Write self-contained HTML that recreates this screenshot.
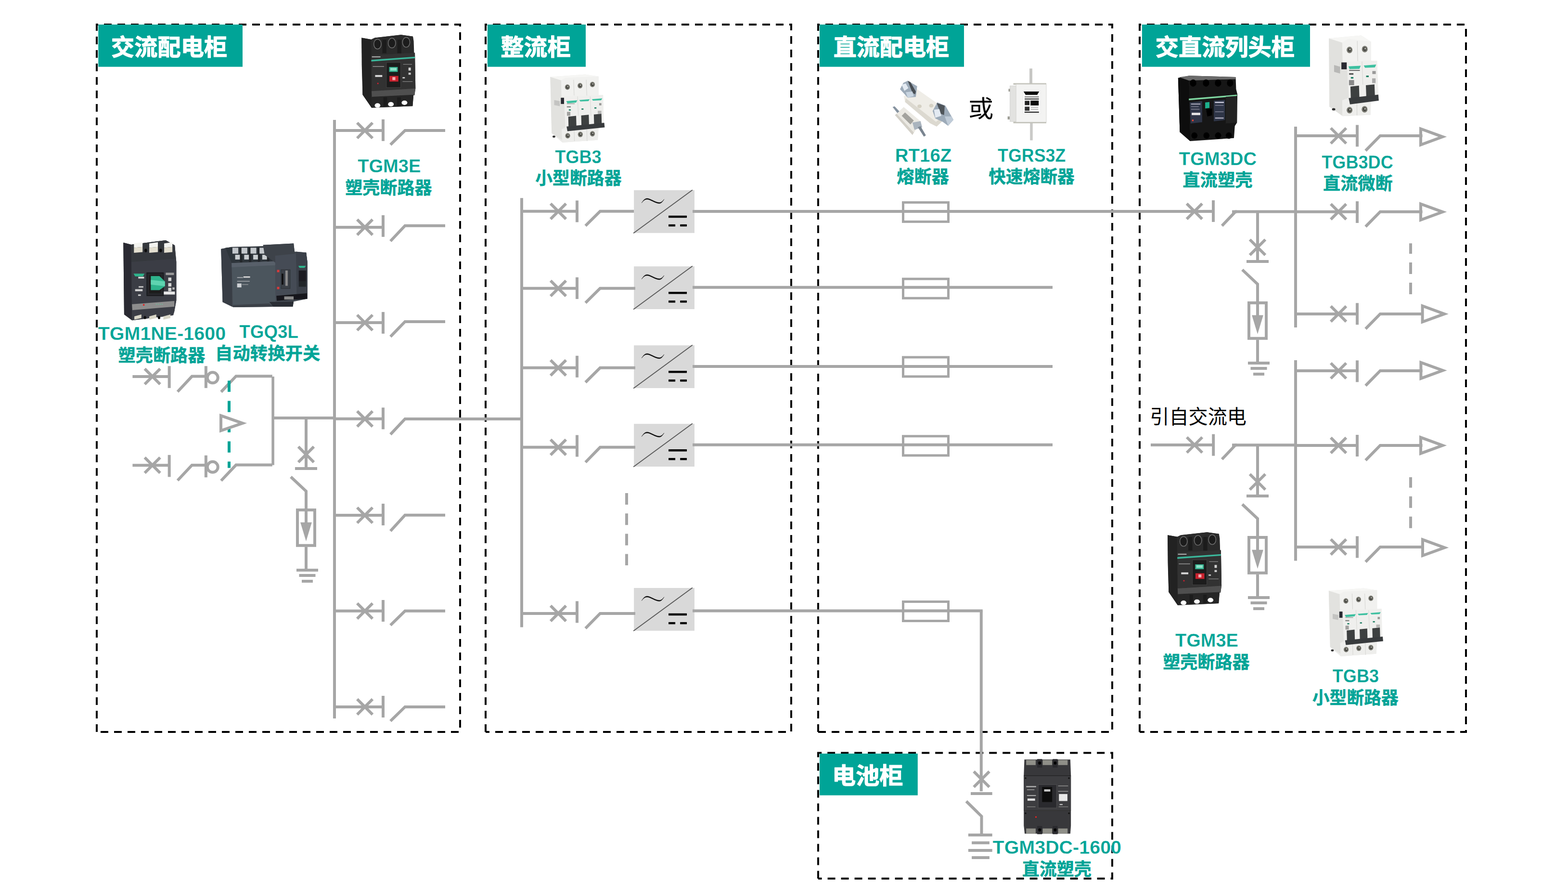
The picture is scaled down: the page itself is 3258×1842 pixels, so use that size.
<!DOCTYPE html>
<html lang="zh-CN">
<head>
<meta charset="utf-8">
<title>通信电源系统配电方案</title>
<style>
html,body{margin:0;padding:0;background:#fff;}
body{width:3258px;height:1842px;overflow:hidden;font-family:"Liberation Sans","Noto Sans CJK SC",sans-serif;}
svg{display:block;}
svg text{font-family:"Liberation Sans","Noto Sans CJK SC",sans-serif;}
.t{font-weight:bold;fill:#00a497;}
.w{font-weight:bold;fill:#fff;}
.k{fill:#000;}
</style>
</head>
<body>
<svg width="3258" height="1842" viewBox="0 0 3258 1842">
<rect x="0" y="0" width="3258" height="1842" fill="#fff"/>
<path d="M201 1520.1V51.1H956V1520.1H201" fill="none" stroke="#000" stroke-width="4" stroke-dasharray="16 12" stroke-linejoin="miter"/>
<path d="M1009 1520.1V51.1H1644V1520.1H1009" fill="none" stroke="#000" stroke-width="4" stroke-dasharray="16 12" stroke-linejoin="miter"/>
<path d="M1700 1520.1V51.1H2311V1520.1H1700" fill="none" stroke="#000" stroke-width="4" stroke-dasharray="16 12" stroke-linejoin="miter"/>
<path d="M2368 1520.1V51.1H3046V1520.1H2368" fill="none" stroke="#000" stroke-width="4" stroke-dasharray="16 12" stroke-linejoin="miter"/>
<path d="M1700 1824.4V1563.6H2311V1824.4H1700" fill="none" stroke="#000" stroke-width="4" stroke-dasharray="16 12" stroke-linejoin="miter"/>
<rect x="204.3" y="51" width="299.7" height="87.7" fill="#00a497"/>
<rect x="1012.9" y="51" width="204.1" height="87.7" fill="#00a497"/>
<rect x="1703" y="51" width="300" height="87.7" fill="#00a497"/>
<rect x="2372.9" y="51" width="349.1" height="87.7" fill="#00a497"/>
<rect x="1703" y="1565" width="203.8" height="86.6" fill="#00a497"/>
<line x1="695" y1="249" x2="695" y2="1491.9" stroke="#a6a6a6" stroke-width="6"/>
<line x1="695" y1="271" x2="796" y2="271" stroke="#a6a6a6" stroke-width="6"/>
<line x1="742.1" y1="255" x2="774.1" y2="287" stroke="#a6a6a6" stroke-width="6"/>
<line x1="742.1" y1="287" x2="774.1" y2="255" stroke="#a6a6a6" stroke-width="6"/>
<line x1="796" y1="247.9" x2="796" y2="292.9" stroke="#a6a6a6" stroke-width="6"/>
<polyline points="811.3,300.5 841.5,271 925,271" fill="none" stroke="#a6a6a6" stroke-width="6" stroke-linejoin="miter"/>
<line x1="695" y1="471.9" x2="796" y2="471.9" stroke="#a6a6a6" stroke-width="6"/>
<line x1="742.1" y1="455.9" x2="774.1" y2="487.9" stroke="#a6a6a6" stroke-width="6"/>
<line x1="742.1" y1="487.9" x2="774.1" y2="455.9" stroke="#a6a6a6" stroke-width="6"/>
<line x1="796" y1="446.9" x2="796" y2="491.9" stroke="#a6a6a6" stroke-width="6"/>
<polyline points="811.3,500.8 841.5,468.8 925,468.8" fill="none" stroke="#a6a6a6" stroke-width="6" stroke-linejoin="miter"/>
<line x1="695" y1="670" x2="796" y2="670" stroke="#a6a6a6" stroke-width="6"/>
<line x1="742.1" y1="654" x2="774.1" y2="686" stroke="#a6a6a6" stroke-width="6"/>
<line x1="742.1" y1="686" x2="774.1" y2="654" stroke="#a6a6a6" stroke-width="6"/>
<line x1="796" y1="647.9" x2="796" y2="692.9" stroke="#a6a6a6" stroke-width="6"/>
<polyline points="811.3,699.2 841.5,667.9 925,667.9" fill="none" stroke="#a6a6a6" stroke-width="6" stroke-linejoin="miter"/>
<line x1="695" y1="869.8" x2="796" y2="869.8" stroke="#a6a6a6" stroke-width="6"/>
<line x1="742.1" y1="853.8" x2="774.1" y2="885.8" stroke="#a6a6a6" stroke-width="6"/>
<line x1="742.1" y1="885.8" x2="774.1" y2="853.8" stroke="#a6a6a6" stroke-width="6"/>
<line x1="796" y1="846.4" x2="796" y2="891.4" stroke="#a6a6a6" stroke-width="6"/>
<polyline points="811.3,902.1 841.5,870 1084,870" fill="none" stroke="#a6a6a6" stroke-width="6" stroke-linejoin="miter"/>
<line x1="695" y1="1070" x2="796" y2="1070" stroke="#a6a6a6" stroke-width="6"/>
<line x1="742.1" y1="1054" x2="774.1" y2="1086" stroke="#a6a6a6" stroke-width="6"/>
<line x1="742.1" y1="1086" x2="774.1" y2="1054" stroke="#a6a6a6" stroke-width="6"/>
<line x1="796" y1="1046" x2="796" y2="1091" stroke="#a6a6a6" stroke-width="6"/>
<polyline points="811.3,1102.7 841.5,1069.8 925,1069.8" fill="none" stroke="#a6a6a6" stroke-width="6" stroke-linejoin="miter"/>
<line x1="695" y1="1268.8" x2="796" y2="1268.8" stroke="#a6a6a6" stroke-width="6"/>
<line x1="742.1" y1="1252.8" x2="774.1" y2="1284.8" stroke="#a6a6a6" stroke-width="6"/>
<line x1="742.1" y1="1284.8" x2="774.1" y2="1252.8" stroke="#a6a6a6" stroke-width="6"/>
<line x1="796" y1="1246" x2="796" y2="1291" stroke="#a6a6a6" stroke-width="6"/>
<polyline points="811.3,1298.3 841.5,1268.8 925,1268.8" fill="none" stroke="#a6a6a6" stroke-width="6" stroke-linejoin="miter"/>
<line x1="695" y1="1467.9" x2="796" y2="1467.9" stroke="#a6a6a6" stroke-width="6"/>
<line x1="742.1" y1="1451.9" x2="774.1" y2="1483.9" stroke="#a6a6a6" stroke-width="6"/>
<line x1="742.1" y1="1483.9" x2="774.1" y2="1451.9" stroke="#a6a6a6" stroke-width="6"/>
<line x1="796" y1="1445" x2="796" y2="1490" stroke="#a6a6a6" stroke-width="6"/>
<polyline points="811.3,1497.3 841.5,1467.9 925,1467.9" fill="none" stroke="#a6a6a6" stroke-width="6" stroke-linejoin="miter"/>
<line x1="567" y1="867.9" x2="695" y2="867.9" stroke="#a6a6a6" stroke-width="6"/>
<line x1="636" y1="867.9" x2="636" y2="973" stroke="#a6a6a6" stroke-width="6"/>
<line x1="619.9" y1="927.6" x2="652.1" y2="959.8" stroke="#a6a6a6" stroke-width="6"/>
<line x1="619.9" y1="959.8" x2="652.1" y2="927.6" stroke="#a6a6a6" stroke-width="6"/>
<line x1="613" y1="973" x2="659" y2="973" stroke="#a6a6a6" stroke-width="6"/>
<polyline points="604.2,990.2 636,1020.1 636,1086" fill="none" stroke="#a6a6a6" stroke-width="6" stroke-linejoin="miter"/>
<rect x="618" y="1059" width="36" height="73.8" fill="none" stroke="#a6a6a6" stroke-width="6"/>
<polygon points="624.1,1084.7 647.9,1084.7 636,1123.9" fill="#a6a6a6" stroke="none" stroke-width="0" stroke-linejoin="miter"/>
<line x1="636" y1="1135.7" x2="636" y2="1184" stroke="#a6a6a6" stroke-width="6"/>
<line x1="616" y1="1184" x2="661" y2="1184" stroke="#a6a6a6" stroke-width="6"/>
<line x1="621.5" y1="1195" x2="655.5" y2="1195" stroke="#a6a6a6" stroke-width="6"/>
<line x1="627" y1="1207" x2="650" y2="1207" stroke="#a6a6a6" stroke-width="6"/>
<line x1="275.4" y1="781.9" x2="351.7" y2="781.9" stroke="#a6a6a6" stroke-width="6"/>
<line x1="300.7" y1="765.9" x2="332.7" y2="797.9" stroke="#a6a6a6" stroke-width="6"/>
<line x1="300.7" y1="797.9" x2="332.7" y2="765.9" stroke="#a6a6a6" stroke-width="6"/>
<line x1="351.7" y1="760.2" x2="351.7" y2="805.8" stroke="#a6a6a6" stroke-width="6"/>
<polyline points="369,813.5 398.8,781.6 428,781.6" fill="none" stroke="#a6a6a6" stroke-width="6" stroke-linejoin="miter"/>
<line x1="427.9" y1="760.2" x2="427.9" y2="805.8" stroke="#a6a6a6" stroke-width="6"/>
<circle cx="441.8" cy="784.3" r="11" fill="none" stroke="#a6a6a6" stroke-width="6"/>
<polyline points="459.4,813.9 490.4,781.3 565.8,781.3" fill="none" stroke="#a6a6a6" stroke-width="6" stroke-linejoin="miter"/>
<line x1="275.4" y1="966.2" x2="351.7" y2="966.2" stroke="#a6a6a6" stroke-width="6"/>
<line x1="300.7" y1="950.2" x2="332.7" y2="982.2" stroke="#a6a6a6" stroke-width="6"/>
<line x1="300.7" y1="982.2" x2="332.7" y2="950.2" stroke="#a6a6a6" stroke-width="6"/>
<line x1="351.7" y1="944.8" x2="351.7" y2="990.4" stroke="#a6a6a6" stroke-width="6"/>
<polyline points="369,997.8 398.8,965.9 428,965.9" fill="none" stroke="#a6a6a6" stroke-width="6" stroke-linejoin="miter"/>
<line x1="427.9" y1="945.7" x2="427.9" y2="991.3" stroke="#a6a6a6" stroke-width="6"/>
<circle cx="441.8" cy="969.8" r="11" fill="none" stroke="#a6a6a6" stroke-width="6"/>
<polyline points="459.4,998.2 490.4,965.6 565.8,965.6" fill="none" stroke="#a6a6a6" stroke-width="6" stroke-linejoin="miter"/>
<line x1="567.1" y1="781.9" x2="567.1" y2="965.8" stroke="#a6a6a6" stroke-width="5.6"/>
<line x1="476" y1="790.4" x2="476" y2="971.7" stroke="#00a497" stroke-width="6" stroke-dasharray="23.3 18.7"/>
<polygon points="459,863.2 504,878.8 459,894.4" fill="#fff" stroke="#a6a6a6" stroke-width="6" stroke-linejoin="miter"/>
<line x1="1084" y1="411.2" x2="1084" y2="1302.5" stroke="#a6a6a6" stroke-width="6"/>
<rect x="1317.2" y="395" width="125.8" height="88.8" fill="#d9d9d9"/>
<line x1="1084" y1="438.8" x2="1199" y2="438.8" stroke="#a6a6a6" stroke-width="6"/>
<line x1="1144" y1="422.8" x2="1176" y2="454.8" stroke="#a6a6a6" stroke-width="6"/>
<line x1="1144" y1="454.8" x2="1176" y2="422.8" stroke="#a6a6a6" stroke-width="6"/>
<line x1="1199" y1="416.4" x2="1199" y2="461.4" stroke="#a6a6a6" stroke-width="6"/>
<polyline points="1216.5,468.8 1246.9,438.8 1317.2,438.8" fill="none" stroke="#a6a6a6" stroke-width="6" stroke-linejoin="miter"/>
<line x1="1439.1" y1="438.9" x2="2521" y2="438.9" stroke="#a6a6a6" stroke-width="6"/>
<line x1="1316.2" y1="484.3" x2="1438.8" y2="394.4" stroke="#595959" stroke-width="1.9"/>
<path transform="translate(0,395)" d="M1333.2 26.4C1337 20.5 1340 17 1344.5 17C1351 17 1362 25.6 1370 25.6C1374 25.6 1377 22.5 1379.9 18.8C1377 23.5 1374 27.6 1370 27.6C1362 27.6 1351 19 1344.5 19C1340 19 1337 21.7 1333.2 26.4Z" fill="#000" stroke="#000" stroke-width="0.4"/>
<line x1="1389.1" y1="450" x2="1427.1" y2="450" stroke="#000" stroke-width="4.4"/>
<line x1="1389.1" y1="468.1" x2="1403.1" y2="468.1" stroke="#000" stroke-width="4.4"/>
<line x1="1413.2" y1="468.1" x2="1427.1" y2="468.1" stroke="#000" stroke-width="4.4"/>
<rect x="1876.5" y="420.4" width="94" height="40" fill="none" stroke="#a6a6a6" stroke-width="5"/>
<rect x="1317.2" y="553.2" width="125.8" height="88.8" fill="#d9d9d9"/>
<line x1="1084" y1="598.8" x2="1199" y2="598.8" stroke="#a6a6a6" stroke-width="6"/>
<line x1="1144" y1="582.8" x2="1176" y2="614.8" stroke="#a6a6a6" stroke-width="6"/>
<line x1="1144" y1="614.8" x2="1176" y2="582.8" stroke="#a6a6a6" stroke-width="6"/>
<line x1="1199" y1="575.9" x2="1199" y2="620.9" stroke="#a6a6a6" stroke-width="6"/>
<polyline points="1216.5,628.8 1246.9,598.8 1320,598.8" fill="none" stroke="#a6a6a6" stroke-width="6" stroke-linejoin="miter"/>
<line x1="1439.1" y1="596.8" x2="2187" y2="596.8" stroke="#a6a6a6" stroke-width="6"/>
<line x1="1316.2" y1="642.5" x2="1438.8" y2="552.6" stroke="#595959" stroke-width="1.9"/>
<path transform="translate(0,553.2)" d="M1333.2 26.4C1337 20.5 1340 17 1344.5 17C1351 17 1362 25.6 1370 25.6C1374 25.6 1377 22.5 1379.9 18.8C1377 23.5 1374 27.6 1370 27.6C1362 27.6 1351 19 1344.5 19C1340 19 1337 21.7 1333.2 26.4Z" fill="#000" stroke="#000" stroke-width="0.4"/>
<line x1="1389.1" y1="608.2" x2="1427.1" y2="608.2" stroke="#000" stroke-width="4.4"/>
<line x1="1389.1" y1="626.3" x2="1403.1" y2="626.3" stroke="#000" stroke-width="4.4"/>
<line x1="1413.2" y1="626.3" x2="1427.1" y2="626.3" stroke="#000" stroke-width="4.4"/>
<rect x="1876.5" y="579.2" width="94" height="40" fill="none" stroke="#a6a6a6" stroke-width="5"/>
<rect x="1317.2" y="717.2" width="125.8" height="88.8" fill="#d9d9d9"/>
<line x1="1084" y1="763.8" x2="1199" y2="763.8" stroke="#a6a6a6" stroke-width="6"/>
<line x1="1144" y1="747.8" x2="1176" y2="779.8" stroke="#a6a6a6" stroke-width="6"/>
<line x1="1144" y1="779.8" x2="1176" y2="747.8" stroke="#a6a6a6" stroke-width="6"/>
<line x1="1199" y1="738.8" x2="1199" y2="783.8" stroke="#a6a6a6" stroke-width="6"/>
<polyline points="1216.5,794 1246.9,763.8 1320,763.8" fill="none" stroke="#a6a6a6" stroke-width="6" stroke-linejoin="miter"/>
<line x1="1439.1" y1="761" x2="2187" y2="761" stroke="#a6a6a6" stroke-width="6"/>
<line x1="1316.2" y1="806.5" x2="1438.8" y2="716.6" stroke="#595959" stroke-width="1.9"/>
<path transform="translate(0,717.2)" d="M1333.2 26.4C1337 20.5 1340 17 1344.5 17C1351 17 1362 25.6 1370 25.6C1374 25.6 1377 22.5 1379.9 18.8C1377 23.5 1374 27.6 1370 27.6C1362 27.6 1351 19 1344.5 19C1340 19 1337 21.7 1333.2 26.4Z" fill="#000" stroke="#000" stroke-width="0.4"/>
<line x1="1389.1" y1="772.2" x2="1427.1" y2="772.2" stroke="#000" stroke-width="4.4"/>
<line x1="1389.1" y1="790.3" x2="1403.1" y2="790.3" stroke="#000" stroke-width="4.4"/>
<line x1="1413.2" y1="790.3" x2="1427.1" y2="790.3" stroke="#000" stroke-width="4.4"/>
<rect x="1876.5" y="741.9" width="94" height="40" fill="none" stroke="#a6a6a6" stroke-width="5"/>
<rect x="1317.2" y="880.2" width="125.8" height="88.8" fill="#d9d9d9"/>
<line x1="1084" y1="928.8" x2="1199" y2="928.8" stroke="#a6a6a6" stroke-width="6"/>
<line x1="1144" y1="912.8" x2="1176" y2="944.8" stroke="#a6a6a6" stroke-width="6"/>
<line x1="1144" y1="944.8" x2="1176" y2="912.8" stroke="#a6a6a6" stroke-width="6"/>
<line x1="1199" y1="903.5" x2="1199" y2="948.5" stroke="#a6a6a6" stroke-width="6"/>
<polyline points="1216.5,960 1246.9,928.8 1320,928.8" fill="none" stroke="#a6a6a6" stroke-width="6" stroke-linejoin="miter"/>
<line x1="1439.1" y1="923.8" x2="2187" y2="923.8" stroke="#a6a6a6" stroke-width="6"/>
<line x1="1316.2" y1="969.5" x2="1438.8" y2="879.6" stroke="#595959" stroke-width="1.9"/>
<path transform="translate(0,880.2)" d="M1333.2 26.4C1337 20.5 1340 17 1344.5 17C1351 17 1362 25.6 1370 25.6C1374 25.6 1377 22.5 1379.9 18.8C1377 23.5 1374 27.6 1370 27.6C1362 27.6 1351 19 1344.5 19C1340 19 1337 21.7 1333.2 26.4Z" fill="#000" stroke="#000" stroke-width="0.4"/>
<line x1="1389.1" y1="935.2" x2="1427.1" y2="935.2" stroke="#000" stroke-width="4.4"/>
<line x1="1389.1" y1="953.3" x2="1403.1" y2="953.3" stroke="#000" stroke-width="4.4"/>
<line x1="1413.2" y1="953.3" x2="1427.1" y2="953.3" stroke="#000" stroke-width="4.4"/>
<rect x="1876.5" y="905.8" width="94" height="40" fill="none" stroke="#a6a6a6" stroke-width="5"/>
<rect x="1317.2" y="1221" width="125.8" height="88.8" fill="#d9d9d9"/>
<line x1="1084" y1="1273.9" x2="1199" y2="1273.9" stroke="#a6a6a6" stroke-width="6"/>
<line x1="1144" y1="1257.9" x2="1176" y2="1289.9" stroke="#a6a6a6" stroke-width="6"/>
<line x1="1144" y1="1289.9" x2="1176" y2="1257.9" stroke="#a6a6a6" stroke-width="6"/>
<line x1="1199" y1="1248.4" x2="1199" y2="1293.4" stroke="#a6a6a6" stroke-width="6"/>
<polyline points="1216.5,1304.9 1246.9,1273.9 1320,1273.9" fill="none" stroke="#a6a6a6" stroke-width="6" stroke-linejoin="miter"/>
<line x1="1439.1" y1="1268.6" x2="2041.8" y2="1268.6" stroke="#a6a6a6" stroke-width="6"/>
<line x1="1316.2" y1="1310.3" x2="1438.8" y2="1220.4" stroke="#595959" stroke-width="1.9"/>
<path transform="translate(0,1221)" d="M1333.2 26.4C1337 20.5 1340 17 1344.5 17C1351 17 1362 25.6 1370 25.6C1374 25.6 1377 22.5 1379.9 18.8C1377 23.5 1374 27.6 1370 27.6C1362 27.6 1351 19 1344.5 19C1340 19 1337 21.7 1333.2 26.4Z" fill="#000" stroke="#000" stroke-width="0.4"/>
<line x1="1389.1" y1="1276" x2="1427.1" y2="1276" stroke="#000" stroke-width="4.4"/>
<line x1="1389.1" y1="1294.1" x2="1403.1" y2="1294.1" stroke="#000" stroke-width="4.4"/>
<line x1="1413.2" y1="1294.1" x2="1427.1" y2="1294.1" stroke="#000" stroke-width="4.4"/>
<rect x="1876.5" y="1249.5" width="94" height="40" fill="none" stroke="#a6a6a6" stroke-width="5"/>
<line x1="1302" y1="1024" x2="1302" y2="1174" stroke="#a6a6a6" stroke-width="6" stroke-dasharray="24 18.2"/>
<line x1="2038.8" y1="1268.6" x2="2038.8" y2="1643.3" stroke="#a6a6a6" stroke-width="6"/>
<line x1="2023.4" y1="1602.1" x2="2055.6" y2="1634.3" stroke="#a6a6a6" stroke-width="6"/>
<line x1="2023.4" y1="1634.3" x2="2055.6" y2="1602.1" stroke="#a6a6a6" stroke-width="6"/>
<line x1="2017" y1="1648" x2="2061.7" y2="1648" stroke="#a6a6a6" stroke-width="6"/>
<polyline points="2007.7,1664 2039.5,1695.2 2039.5,1734" fill="none" stroke="#a6a6a6" stroke-width="6" stroke-linejoin="miter"/>
<line x1="2011.9" y1="1734" x2="2061.7" y2="1734" stroke="#a6a6a6" stroke-width="6"/>
<line x1="2019.1" y1="1750.3" x2="2055.9" y2="1750.3" stroke="#a6a6a6" stroke-width="6"/>
<line x1="2011.9" y1="1766" x2="2061.7" y2="1766" stroke="#a6a6a6" stroke-width="6"/>
<line x1="2019.1" y1="1781" x2="2055.9" y2="1781" stroke="#a6a6a6" stroke-width="6"/>
<line x1="2692" y1="263" x2="2692" y2="680" stroke="#a6a6a6" stroke-width="6"/>
<line x1="2692" y1="748" x2="2692" y2="1164.5" stroke="#a6a6a6" stroke-width="6"/>
<polygon points="2952,267.5 2997.5,284.1 2952,300.7" fill="none" stroke="#a6a6a6" stroke-width="6" stroke-linejoin="miter"/>
<line x1="2692" y1="282" x2="2820" y2="282" stroke="#a6a6a6" stroke-width="6"/>
<line x1="2765.1" y1="266" x2="2797.1" y2="298" stroke="#a6a6a6" stroke-width="6"/>
<line x1="2765.1" y1="298" x2="2797.1" y2="266" stroke="#a6a6a6" stroke-width="6"/>
<line x1="2820" y1="259.5" x2="2820" y2="304.5" stroke="#a6a6a6" stroke-width="6"/>
<polyline points="2837.4,312.9 2867.8,282 2955.6,282" fill="none" stroke="#a6a6a6" stroke-width="6" stroke-linejoin="miter"/>
<polygon points="2952,423.5 2997.5,440.1 2952,456.7" fill="none" stroke="#a6a6a6" stroke-width="6" stroke-linejoin="miter"/>
<line x1="2692" y1="439.7" x2="2820" y2="439.7" stroke="#a6a6a6" stroke-width="6"/>
<line x1="2765.1" y1="423.7" x2="2797.1" y2="455.7" stroke="#a6a6a6" stroke-width="6"/>
<line x1="2765.1" y1="455.7" x2="2797.1" y2="423.7" stroke="#a6a6a6" stroke-width="6"/>
<line x1="2820" y1="418" x2="2820" y2="463" stroke="#a6a6a6" stroke-width="6"/>
<polyline points="2837.4,470.6 2867.8,439.7 2955.6,439.7" fill="none" stroke="#a6a6a6" stroke-width="6" stroke-linejoin="miter"/>
<polygon points="2955.6,635.3 3001.1,651.9 2955.6,668.5" fill="none" stroke="#a6a6a6" stroke-width="6" stroke-linejoin="miter"/>
<line x1="2692" y1="651.9" x2="2820" y2="651.9" stroke="#a6a6a6" stroke-width="6"/>
<line x1="2765.1" y1="635.9" x2="2797.1" y2="667.9" stroke="#a6a6a6" stroke-width="6"/>
<line x1="2765.1" y1="667.9" x2="2797.1" y2="635.9" stroke="#a6a6a6" stroke-width="6"/>
<line x1="2820" y1="629.3" x2="2820" y2="674.3" stroke="#a6a6a6" stroke-width="6"/>
<polyline points="2837.4,682.8 2867.8,651.9 2955.6,651.9" fill="none" stroke="#a6a6a6" stroke-width="6" stroke-linejoin="miter"/>
<polygon points="2952.4,752.7 2997.9,769.3 2952.4,785.9" fill="none" stroke="#a6a6a6" stroke-width="6" stroke-linejoin="miter"/>
<line x1="2692" y1="770" x2="2820" y2="770" stroke="#a6a6a6" stroke-width="6"/>
<line x1="2765.1" y1="754" x2="2797.1" y2="786" stroke="#a6a6a6" stroke-width="6"/>
<line x1="2765.1" y1="786" x2="2797.1" y2="754" stroke="#a6a6a6" stroke-width="6"/>
<line x1="2820" y1="748.4" x2="2820" y2="793.4" stroke="#a6a6a6" stroke-width="6"/>
<polyline points="2837.4,800.9 2867.8,770 2955.6,770" fill="none" stroke="#a6a6a6" stroke-width="6" stroke-linejoin="miter"/>
<polygon points="2952,908.4 2997.5,925 2952,941.6" fill="none" stroke="#a6a6a6" stroke-width="6" stroke-linejoin="miter"/>
<line x1="2692" y1="924.9" x2="2820" y2="924.9" stroke="#a6a6a6" stroke-width="6"/>
<line x1="2765.1" y1="908.9" x2="2797.1" y2="940.9" stroke="#a6a6a6" stroke-width="6"/>
<line x1="2765.1" y1="940.9" x2="2797.1" y2="908.9" stroke="#a6a6a6" stroke-width="6"/>
<line x1="2820" y1="903" x2="2820" y2="948" stroke="#a6a6a6" stroke-width="6"/>
<polyline points="2837.4,955.8 2867.8,924.9 2955.6,924.9" fill="none" stroke="#a6a6a6" stroke-width="6" stroke-linejoin="miter"/>
<polygon points="2956,1120.6 3001.5,1137.2 2956,1153.8" fill="none" stroke="#a6a6a6" stroke-width="6" stroke-linejoin="miter"/>
<line x1="2692" y1="1135.9" x2="2820" y2="1135.9" stroke="#a6a6a6" stroke-width="6"/>
<line x1="2765.1" y1="1119.9" x2="2797.1" y2="1151.9" stroke="#a6a6a6" stroke-width="6"/>
<line x1="2765.1" y1="1151.9" x2="2797.1" y2="1119.9" stroke="#a6a6a6" stroke-width="6"/>
<line x1="2820" y1="1113.5" x2="2820" y2="1158.5" stroke="#a6a6a6" stroke-width="6"/>
<polyline points="2837.4,1166.8 2867.8,1135.9 2955.6,1135.9" fill="none" stroke="#a6a6a6" stroke-width="6" stroke-linejoin="miter"/>
<line x1="2931" y1="505.3" x2="2931" y2="611" stroke="#a6a6a6" stroke-width="6" stroke-dasharray="24 18" stroke-dashoffset="2.3"/>
<line x1="2931" y1="991" x2="2931" y2="1096.7" stroke="#a6a6a6" stroke-width="6" stroke-dasharray="24 18" stroke-dashoffset="2.3"/>
<line x1="2500" y1="438.9" x2="2521" y2="438.9" stroke="#a6a6a6" stroke-width="6"/>
<line x1="2465.8" y1="422.9" x2="2497.8" y2="454.9" stroke="#a6a6a6" stroke-width="6"/>
<line x1="2465.8" y1="454.9" x2="2497.8" y2="422.9" stroke="#a6a6a6" stroke-width="6"/>
<line x1="2521" y1="415.9" x2="2521" y2="460.9" stroke="#a6a6a6" stroke-width="6"/>
<polyline points="2539,468.9 2567,439.6 2692,439.6" fill="none" stroke="#a6a6a6" stroke-width="6" stroke-linejoin="miter"/>
<line x1="2560" y1="439.6" x2="2570" y2="439.6" stroke="#a6a6a6" stroke-width="6"/>
<line x1="2391" y1="924" x2="2521.2" y2="924" stroke="#a6a6a6" stroke-width="6"/>
<line x1="2466" y1="908" x2="2498" y2="940" stroke="#a6a6a6" stroke-width="6"/>
<line x1="2466" y1="940" x2="2498" y2="908" stroke="#a6a6a6" stroke-width="6"/>
<line x1="2521.2" y1="901.6" x2="2521.2" y2="946.6" stroke="#a6a6a6" stroke-width="6"/>
<polyline points="2539,953.8 2567,924.2 2692,924.2" fill="none" stroke="#a6a6a6" stroke-width="6" stroke-linejoin="miter"/>
<line x1="2560" y1="924.2" x2="2570" y2="924.2" stroke="#a6a6a6" stroke-width="6"/>
<line x1="2613" y1="439.4" x2="2613" y2="542.9" stroke="#a6a6a6" stroke-width="6"/>
<line x1="2596.9" y1="497.5" x2="2629.1" y2="529.7" stroke="#a6a6a6" stroke-width="6"/>
<line x1="2596.9" y1="529.7" x2="2629.1" y2="497.5" stroke="#a6a6a6" stroke-width="6"/>
<line x1="2590" y1="542.9" x2="2636" y2="542.9" stroke="#a6a6a6" stroke-width="6"/>
<polyline points="2581.2,560.1 2613,590 2613,655.9" fill="none" stroke="#a6a6a6" stroke-width="6" stroke-linejoin="miter"/>
<rect x="2595" y="628.9" width="36" height="73.8" fill="none" stroke="#a6a6a6" stroke-width="6"/>
<polygon points="2601.1,654.6 2624.9,654.6 2613,693.8" fill="#a6a6a6" stroke="none" stroke-width="0" stroke-linejoin="miter"/>
<line x1="2613" y1="705.6" x2="2613" y2="753.9" stroke="#a6a6a6" stroke-width="6"/>
<line x1="2593" y1="753.9" x2="2638" y2="753.9" stroke="#a6a6a6" stroke-width="6"/>
<line x1="2598.5" y1="764.9" x2="2632.5" y2="764.9" stroke="#a6a6a6" stroke-width="6"/>
<line x1="2604" y1="776.9" x2="2627" y2="776.9" stroke="#a6a6a6" stroke-width="6"/>
<line x1="2613" y1="924" x2="2613" y2="1030" stroke="#a6a6a6" stroke-width="6"/>
<line x1="2596.9" y1="984.6" x2="2629.1" y2="1016.8" stroke="#a6a6a6" stroke-width="6"/>
<line x1="2596.9" y1="1016.8" x2="2629.1" y2="984.6" stroke="#a6a6a6" stroke-width="6"/>
<line x1="2590" y1="1030" x2="2636" y2="1030" stroke="#a6a6a6" stroke-width="6"/>
<polyline points="2581.2,1047.2 2613,1077.1 2613,1143" fill="none" stroke="#a6a6a6" stroke-width="6" stroke-linejoin="miter"/>
<rect x="2595" y="1116" width="36" height="73.8" fill="none" stroke="#a6a6a6" stroke-width="6"/>
<polygon points="2601.1,1141.7 2624.9,1141.7 2613,1180.9" fill="#a6a6a6" stroke="none" stroke-width="0" stroke-linejoin="miter"/>
<line x1="2613" y1="1192.7" x2="2613" y2="1241" stroke="#a6a6a6" stroke-width="6"/>
<line x1="2593" y1="1241" x2="2638" y2="1241" stroke="#a6a6a6" stroke-width="6"/>
<line x1="2598.5" y1="1252" x2="2632.5" y2="1252" stroke="#a6a6a6" stroke-width="6"/>
<line x1="2604" y1="1264" x2="2627" y2="1264" stroke="#a6a6a6" stroke-width="6"/>
<defs><filter id="soft" x="-5%" y="-5%" width="110%" height="110%"><feGaussianBlur stdDeviation="3"/></filter></defs>
<g transform="translate(730,60) scale(0.12365)" filter="url(#soft)">
<polygon points="172,150 335,178 395,150 835,100 1035,128 1055,430 1068,400 1078,1005 1062,1115 1045,1105 1030,1295 340,1325 190,1105" fill="#2a2a2a"/>
<polygon points="172,150 335,178 340,1322 190,1105 175,600" fill="#202020"/>
<polygon points="335,178 395,150 835,100 1035,128 1048,205 1055,430 335,470" fill="#2c2c2c"/>
<polygon points="335,440 1068,400 1078,1005 340,1050" fill="#303030"/>
<polygon points="340,1045 1075,1000 1062,1115 345,1150" fill="#505050"/>
<polygon points="345,1140 1045,1105 1030,1295 340,1325" fill="#262626"/>
<ellipse cx="440" cy="255" rx="62" ry="82" fill="#1b1b1b" stroke="#6e6e6e" stroke-width="12"/>
<ellipse cx="682" cy="238" rx="62" ry="82" fill="#1b1b1b" stroke="#6e6e6e" stroke-width="12"/>
<ellipse cx="922" cy="225" rx="62" ry="82" fill="#1b1b1b" stroke="#6e6e6e" stroke-width="12"/>
<rect x="520" y="180" width="70" height="230" fill="#1e1e1e"/>
<rect x="770" y="180" width="70" height="230" fill="#1e1e1e"/>
<polygon points="335,520 1068,468 1068,494 335,547" fill="#3bb79b"/>
<rect x="345" y="462" width="145" height="16" fill="#b5b5b5"/>
<rect x="590" y="565" width="240" height="420" fill="#1a1a1a" stroke="#454545" stroke-width="8"/>
<rect x="635" y="640" width="145" height="82" fill="#36b391"/>
<rect x="655" y="655" width="105" height="45" fill="#8fe0c8"/>
<rect x="640" y="790" width="150" height="95" fill="#c9202f"/>
<rect x="690" y="810" width="50" height="50" fill="#f0b0b5"/>
<rect x="400" y="775" width="120" height="32" fill="#d8d8d8"/>
<rect x="360" y="625" width="190" height="14" fill="#8a8a8a"/>
<rect x="960" y="650" width="40" height="50" fill="#d0d0d0"/>
<rect x="960" y="735" width="40" height="35" fill="#c8c8c8"/>
<rect x="860" y="810" width="40" height="22" fill="#d0d0d0"/>
<rect x="870" y="590" width="150" height="10" fill="#8a8a8a"/>
<rect x="860" y="880" width="170" height="10" fill="#8a8a8a"/>
<rect x="435" y="905" width="22" height="22" fill="#d02030"/>
<ellipse cx="440" cy="1285" rx="48" ry="37" fill="#fff"/>
<ellipse cx="665" cy="1265" rx="48" ry="37" fill="#fff"/>
<ellipse cx="893" cy="1240" rx="48" ry="37" fill="#fff"/>
<rect x="540" y="1150" width="60" height="150" fill="#1c1c1c"/>
<rect x="770" y="1150" width="60" height="150" fill="#1c1c1c"/>
</g>
<g transform="translate(2404.8,1092.8) scale(0.12365)" filter="url(#soft)">
<polygon points="172,150 335,178 395,150 835,100 1035,128 1055,430 1068,400 1078,1005 1062,1115 1045,1105 1030,1295 340,1325 190,1105" fill="#2a2a2a"/>
<polygon points="172,150 335,178 340,1322 190,1105 175,600" fill="#202020"/>
<polygon points="335,178 395,150 835,100 1035,128 1048,205 1055,430 335,470" fill="#2c2c2c"/>
<polygon points="335,440 1068,400 1078,1005 340,1050" fill="#303030"/>
<polygon points="340,1045 1075,1000 1062,1115 345,1150" fill="#505050"/>
<polygon points="345,1140 1045,1105 1030,1295 340,1325" fill="#262626"/>
<ellipse cx="440" cy="255" rx="62" ry="82" fill="#1b1b1b" stroke="#6e6e6e" stroke-width="12"/>
<ellipse cx="682" cy="238" rx="62" ry="82" fill="#1b1b1b" stroke="#6e6e6e" stroke-width="12"/>
<ellipse cx="922" cy="225" rx="62" ry="82" fill="#1b1b1b" stroke="#6e6e6e" stroke-width="12"/>
<rect x="520" y="180" width="70" height="230" fill="#1e1e1e"/>
<rect x="770" y="180" width="70" height="230" fill="#1e1e1e"/>
<polygon points="335,520 1068,468 1068,494 335,547" fill="#3bb79b"/>
<rect x="345" y="462" width="145" height="16" fill="#b5b5b5"/>
<rect x="590" y="565" width="240" height="420" fill="#1a1a1a" stroke="#454545" stroke-width="8"/>
<rect x="635" y="640" width="145" height="82" fill="#36b391"/>
<rect x="655" y="655" width="105" height="45" fill="#8fe0c8"/>
<rect x="640" y="790" width="150" height="95" fill="#c9202f"/>
<rect x="690" y="810" width="50" height="50" fill="#f0b0b5"/>
<rect x="400" y="775" width="120" height="32" fill="#d8d8d8"/>
<rect x="360" y="625" width="190" height="14" fill="#8a8a8a"/>
<rect x="960" y="650" width="40" height="50" fill="#d0d0d0"/>
<rect x="960" y="735" width="40" height="35" fill="#c8c8c8"/>
<rect x="860" y="810" width="40" height="22" fill="#d0d0d0"/>
<rect x="870" y="590" width="150" height="10" fill="#8a8a8a"/>
<rect x="860" y="880" width="170" height="10" fill="#8a8a8a"/>
<rect x="435" y="905" width="22" height="22" fill="#d02030"/>
<ellipse cx="440" cy="1285" rx="48" ry="37" fill="#fff"/>
<ellipse cx="665" cy="1265" rx="48" ry="37" fill="#fff"/>
<ellipse cx="893" cy="1240" rx="48" ry="37" fill="#fff"/>
<rect x="540" y="1150" width="60" height="150" fill="#1c1c1c"/>
<rect x="770" y="1150" width="60" height="150" fill="#1c1c1c"/>
</g>
<g transform="translate(240,490) scale(0.16304)" filter="url(#soft)">
<polygon points="100,85 200,110 640,55 755,120 775,330 775,820 750,960 735,1010 210,1075 110,1000" fill="#34373c"/>
<polygon points="100,85 200,110 210,1072 110,1000" fill="#2a2c30"/>
<polygon points="200,110 640,55 755,120 775,330 775,820 750,960 735,1010 210,1075" fill="#3b3e44"/>
<polygon points="200,110 640,55 755,120 765,290 205,330" fill="#34373c"/>
<polygon points="235,95 345,80 345,140 235,150" fill="#f4f4f0"/>
<polygon points="235,150 345,140 345,205 235,215" fill="#e3dfd0"/>
<polygon points="430,95 540,80 540,140 430,150" fill="#f4f4f0"/>
<polygon points="430,150 540,140 540,205 430,215" fill="#e3dfd0"/>
<polygon points="620,95 725,80 725,140 620,150" fill="#f4f4f0"/>
<polygon points="620,150 725,140 725,205 620,215" fill="#e3dfd0"/>
<ellipse cx="385" cy="185" rx="18" ry="22" fill="#101010"/>
<ellipse cx="575" cy="185" rx="18" ry="22" fill="#101010"/>
<polygon points="210,870 750,828 750,900 215,945" fill="#8d8d8d"/>
<rect x="400" y="470" width="210" height="290" fill="#25272b" stroke="#17181a" stroke-width="10"/>
<rect x="430" y="495" width="150" height="235" fill="#1b1c1f"/>
<polygon points="450,510 560,510 630,580 630,640 560,690 450,690" fill="#2fb38c"/>
<polygon points="450,560 630,580 630,640 450,620" fill="#5fd3b0"/>
<polygon points="230,480 370,480 350,515 250,515" fill="#2fb38c"/>
<rect x="290" y="520" width="75" height="22" fill="#d8d8d8"/>
<rect x="250" y="678" width="95" height="26" fill="#d5d5d5"/>
<rect x="295" y="640" width="60" height="18" fill="#c8c8c8"/>
<rect x="288" y="745" width="35" height="18" fill="#d0d0d0"/>
<rect x="615" y="708" width="142" height="38" fill="#e8e8e8"/>
<rect x="672" y="530" width="40" height="44" fill="#d4d4d4"/>
<rect x="672" y="600" width="40" height="44" fill="#d4d4d4"/>
<rect x="672" y="660" width="40" height="44" fill="#d4d4d4"/>
<rect x="640" y="468" width="105" height="30" fill="#9a9a9a"/>
<rect x="725" y="655" width="28" height="28" fill="#b8b8b8"/>
<ellipse cx="360" cy="878" rx="11" ry="11" fill="#e02020"/>
<ellipse cx="520" cy="870" rx="5" ry="5" fill="#58e0a8"/>
<ellipse cx="545" cy="870" rx="5" ry="5" fill="#58e0a8"/>
<ellipse cx="570" cy="870" rx="5" ry="5" fill="#58e0a8"/>
<ellipse cx="595" cy="870" rx="5" ry="5" fill="#58e0a8"/>
<polygon points="240,1025 330,1000 330,1045 240,1065" fill="#d8d5c6"/>
<polygon points="430,1025 520,1000 520,1045 430,1065" fill="#d8d5c6"/>
<polygon points="610,1025 700,1000 700,1045 610,1065" fill="#d8d5c6"/>
<ellipse cx="375" cy="1040" rx="16" ry="20" fill="#0c0c0c"/>
<ellipse cx="555" cy="1040" rx="16" ry="20" fill="#0c0c0c"/>
</g>
<g transform="translate(240,490) scale(0.16304)" filter="url(#soft)">
<polygon points="1345,165 1480,140 1900,130 1880,115 2270,95 2282,200 2430,212 2445,330 2445,800 2270,835 2260,900 2010,902 1500,908 1365,842" fill="#40464e"/>
<polygon points="1345,165 1480,140 1485,900 1365,842" fill="#383e45"/>
<polygon points="1400,150 1900,130 2035,250 2035,345 1480,345" fill="#2f343a"/>
<rect x="1490" y="150" width="75" height="75" fill="#c3c7cb"/>
<rect x="1525" y="240" width="75" height="60" fill="#c9cdd0"/>
<rect x="1585" y="150" width="30" height="190" fill="#22262a"/>
<rect x="1605" y="150" width="75" height="75" fill="#c3c7cb"/>
<rect x="1640" y="240" width="75" height="60" fill="#c9cdd0"/>
<rect x="1700" y="150" width="30" height="190" fill="#22262a"/>
<rect x="1720" y="150" width="75" height="75" fill="#c3c7cb"/>
<rect x="1755" y="240" width="75" height="60" fill="#c9cdd0"/>
<rect x="1815" y="150" width="30" height="190" fill="#22262a"/>
<rect x="1835" y="150" width="75" height="75" fill="#c3c7cb"/>
<rect x="1870" y="240" width="75" height="60" fill="#c9cdd0"/>
<rect x="1930" y="150" width="30" height="190" fill="#22262a"/>
<polygon points="1480,345 2035,322 2042,882 1495,905" fill="#4c545d"/>
<polygon points="1480,345 2035,322 2035,372 1482,398" fill="#58606a"/>
<polygon points="1880,115 2270,95 2282,200 2300,330 2040,342 1900,240" fill="#3e434a"/>
<polygon points="2035,252 2430,212 2445,330 2445,800 2042,852" fill="#454c55"/>
<polygon points="2300,200 2430,212 2445,330 2445,800 2310,815" fill="#3b4149"/>
<polygon points="2050,762 2440,730 2440,800 2055,826" fill="#16181a"/>
<rect x="2150" y="770" width="120" height="40" fill="#8a8a8a"/>
<rect x="2335" y="440" width="95" height="140" fill="#1a1c20"/>
<rect x="2335" y="575" width="95" height="72" fill="#24272b"/>
<rect x="2058" y="432" width="30" height="30" fill="#d83a3a"/>
<rect x="2058" y="648" width="30" height="30" fill="#d83a3a"/>
<polygon points="2330,380 2425,380 2410,406 2345,406" fill="#2fb38c"/>
<rect x="2110" y="430" width="115" height="240" fill="#3a4047" stroke="#2a2e33" stroke-width="6"/>
<rect x="2165" y="440" width="30" height="195" fill="#8c8c8c"/>
<rect x="2118" y="480" width="22" height="140" fill="#101010"/>
<rect x="1630" y="515" width="85" height="16" fill="#e0e0e0"/>
<rect x="1550" y="525" width="75" height="10" fill="#b0b4b8"/>
<rect x="1550" y="572" width="160" height="10" fill="#a0a4a8"/>
<rect x="1550" y="605" width="55" height="50" fill="#cfd2d5"/>
<rect x="1612" y="615" width="80" height="8" fill="#9a9ea2"/>
<polygon points="1960,840 2270,835 2260,900 2010,902" fill="#2b2f34"/>
<polygon points="1495,880 1960,860 2010,902 1500,908" fill="#3a4047"/>
</g>
<g transform="translate(1120,140) scale(0.11679)" filter="url(#soft)">
<polygon points="200,170 820,125 1060,160 1060,495 1140,490 1150,1000 1060,1070 1045,1290 415,1335 225,1170" fill="#ececea"/>
<polygon points="200,170 395,230 400,520 445,530 470,1060 405,1100 410,1290 225,1170" fill="#e2e2df"/>
<polygon points="200,170 820,125 1060,160 470,190 395,230" fill="#f6f6f4"/>
<polygon points="395,230 470,185 1060,160 1060,495 400,520" fill="#f1f1ef"/>
<polygon points="445,520 1140,490 1150,1000 470,1060" fill="#efefed"/>
<polygon points="405,1100 1060,1070 1045,1290 415,1335" fill="#eeeeec"/>
<line x1="615" y1="220" x2="625" y2="500" stroke="#d2d2cf" stroke-width="8"/>
<line x1="685" y1="515" x2="700" y2="860" stroke="#d6d6d3" stroke-width="8"/>
<line x1="625" y1="1100" x2="630" y2="1310" stroke="#d2d2cf" stroke-width="8"/>
<line x1="840" y1="220" x2="850" y2="500" stroke="#d2d2cf" stroke-width="8"/>
<line x1="910" y1="515" x2="925" y2="860" stroke="#d6d6d3" stroke-width="8"/>
<line x1="850" y1="1100" x2="855" y2="1310" stroke="#d2d2cf" stroke-width="8"/>
<ellipse cx="505" cy="350" rx="44" ry="48" fill="#7a7a72"/>
<ellipse cx="505" cy="350" rx="26" ry="30" fill="#4a4a44"/>
<ellipse cx="511" cy="342" rx="10" ry="12" fill="#c8c8c0"/>
<ellipse cx="730" cy="325" rx="44" ry="48" fill="#7a7a72"/>
<ellipse cx="730" cy="325" rx="26" ry="30" fill="#4a4a44"/>
<ellipse cx="736" cy="317" rx="10" ry="12" fill="#c8c8c0"/>
<ellipse cx="950" cy="303" rx="44" ry="48" fill="#7a7a72"/>
<ellipse cx="950" cy="303" rx="26" ry="30" fill="#4a4a44"/>
<ellipse cx="956" cy="295" rx="10" ry="12" fill="#c8c8c0"/>
<ellipse cx="510" cy="1215" rx="44" ry="48" fill="#7a7a72"/>
<ellipse cx="510" cy="1215" rx="26" ry="30" fill="#4a4a44"/>
<ellipse cx="516" cy="1207" rx="10" ry="12" fill="#c8c8c0"/>
<ellipse cx="735" cy="1192" rx="44" ry="48" fill="#7a7a72"/>
<ellipse cx="735" cy="1192" rx="26" ry="30" fill="#4a4a44"/>
<ellipse cx="741" cy="1184" rx="10" ry="12" fill="#c8c8c0"/>
<ellipse cx="950" cy="1180" rx="44" ry="48" fill="#7a7a72"/>
<ellipse cx="950" cy="1180" rx="26" ry="30" fill="#4a4a44"/>
<ellipse cx="956" cy="1172" rx="10" ry="12" fill="#c8c8c0"/>
<polygon points="388,540 445,540 445,650 388,650" fill="#2a2c30"/>
<polygon points="485,600 680,585 660,625 505,637" fill="#3cc0a0"/>
<polygon points="715,580 900,565 880,600 735,606" fill="#3cc0a0"/>
<polygon points="940,565 1125,550 1105,585 960,591" fill="#3cc0a0"/>
<rect x="530" y="745" width="36" height="22" fill="#1e7e62"/>
<rect x="755" y="730" width="36" height="22" fill="#1e7e62"/>
<rect x="985" y="710" width="36" height="22" fill="#1e7e62"/>
<rect x="495" y="640" width="140" height="12" fill="#9a9a98"/>
<rect x="495" y="690" width="70" height="22" fill="#8a8a88"/>
<rect x="497" y="790" width="60" height="70" fill="#a0a09e"/>
<rect x="1045" y="770" width="65" height="55" fill="#b8b8b6"/>
<rect x="1070" y="635" width="40" height="40" fill="#9a9a98"/>
<polygon points="270,580 370,600 370,690 270,670" fill="#c4c4c2"/>
<polygon points="520,875 660,860 665,1045 525,1060" fill="#3d3f41"/>
<polygon points="750,855 885,842 890,1025 755,1040" fill="#3d3f41"/>
<polygon points="975,838 1110,825 1115,1000 980,1018" fill="#3d3f41"/>
<polygon points="490,1050 1160,985 1168,1065 505,1135" fill="#393b3d"/>
<ellipse cx="265" cy="1230" rx="25" ry="18" fill="#333"/>
</g>
<g transform="translate(2737.5,1207) scale(0.11679)" filter="url(#soft)">
<polygon points="200,170 820,125 1060,160 1060,495 1140,490 1150,1000 1060,1070 1045,1290 415,1335 225,1170" fill="#ececea"/>
<polygon points="200,170 395,230 400,520 445,530 470,1060 405,1100 410,1290 225,1170" fill="#e2e2df"/>
<polygon points="200,170 820,125 1060,160 470,190 395,230" fill="#f6f6f4"/>
<polygon points="395,230 470,185 1060,160 1060,495 400,520" fill="#f1f1ef"/>
<polygon points="445,520 1140,490 1150,1000 470,1060" fill="#efefed"/>
<polygon points="405,1100 1060,1070 1045,1290 415,1335" fill="#eeeeec"/>
<line x1="615" y1="220" x2="625" y2="500" stroke="#d2d2cf" stroke-width="8"/>
<line x1="685" y1="515" x2="700" y2="860" stroke="#d6d6d3" stroke-width="8"/>
<line x1="625" y1="1100" x2="630" y2="1310" stroke="#d2d2cf" stroke-width="8"/>
<line x1="840" y1="220" x2="850" y2="500" stroke="#d2d2cf" stroke-width="8"/>
<line x1="910" y1="515" x2="925" y2="860" stroke="#d6d6d3" stroke-width="8"/>
<line x1="850" y1="1100" x2="855" y2="1310" stroke="#d2d2cf" stroke-width="8"/>
<ellipse cx="505" cy="350" rx="44" ry="48" fill="#7a7a72"/>
<ellipse cx="505" cy="350" rx="26" ry="30" fill="#4a4a44"/>
<ellipse cx="511" cy="342" rx="10" ry="12" fill="#c8c8c0"/>
<ellipse cx="730" cy="325" rx="44" ry="48" fill="#7a7a72"/>
<ellipse cx="730" cy="325" rx="26" ry="30" fill="#4a4a44"/>
<ellipse cx="736" cy="317" rx="10" ry="12" fill="#c8c8c0"/>
<ellipse cx="950" cy="303" rx="44" ry="48" fill="#7a7a72"/>
<ellipse cx="950" cy="303" rx="26" ry="30" fill="#4a4a44"/>
<ellipse cx="956" cy="295" rx="10" ry="12" fill="#c8c8c0"/>
<ellipse cx="510" cy="1215" rx="44" ry="48" fill="#7a7a72"/>
<ellipse cx="510" cy="1215" rx="26" ry="30" fill="#4a4a44"/>
<ellipse cx="516" cy="1207" rx="10" ry="12" fill="#c8c8c0"/>
<ellipse cx="735" cy="1192" rx="44" ry="48" fill="#7a7a72"/>
<ellipse cx="735" cy="1192" rx="26" ry="30" fill="#4a4a44"/>
<ellipse cx="741" cy="1184" rx="10" ry="12" fill="#c8c8c0"/>
<ellipse cx="950" cy="1180" rx="44" ry="48" fill="#7a7a72"/>
<ellipse cx="950" cy="1180" rx="26" ry="30" fill="#4a4a44"/>
<ellipse cx="956" cy="1172" rx="10" ry="12" fill="#c8c8c0"/>
<polygon points="388,540 445,540 445,650 388,650" fill="#2a2c30"/>
<polygon points="485,600 680,585 660,625 505,637" fill="#3cc0a0"/>
<polygon points="715,580 900,565 880,600 735,606" fill="#3cc0a0"/>
<polygon points="940,565 1125,550 1105,585 960,591" fill="#3cc0a0"/>
<rect x="530" y="745" width="36" height="22" fill="#1e7e62"/>
<rect x="755" y="730" width="36" height="22" fill="#1e7e62"/>
<rect x="985" y="710" width="36" height="22" fill="#1e7e62"/>
<rect x="495" y="640" width="140" height="12" fill="#9a9a98"/>
<rect x="495" y="690" width="70" height="22" fill="#8a8a88"/>
<rect x="497" y="790" width="60" height="70" fill="#a0a09e"/>
<rect x="1045" y="770" width="65" height="55" fill="#b8b8b6"/>
<rect x="1070" y="635" width="40" height="40" fill="#9a9a98"/>
<polygon points="270,580 370,600 370,690 270,670" fill="#c4c4c2"/>
<polygon points="520,875 660,860 665,1045 525,1060" fill="#3d3f41"/>
<polygon points="750,855 885,842 890,1025 755,1040" fill="#3d3f41"/>
<polygon points="975,838 1110,825 1115,1000 980,1018" fill="#3d3f41"/>
<polygon points="490,1050 1160,985 1168,1065 505,1135" fill="#393b3d"/>
<ellipse cx="265" cy="1230" rx="25" ry="18" fill="#333"/>
</g>
<g transform="translate(1840,130) scale(0.13975)" filter="url(#soft)">
<polygon points="270,500 470,395 930,720 920,800 760,950 660,900 290,585" fill="#efede7"/>
<polygon points="290,585 660,900 760,950 920,800 925,740 750,880 300,530" fill="#dcd9d0"/>
<ellipse cx="505" cy="650" rx="32" ry="28" fill="#d5d1c4"/>
<ellipse cx="680" cy="640" rx="32" ry="28" fill="#d5d1c4"/>
<polygon points="215,395 265,300 330,270 470,350 450,510 330,520" fill="#9dabb9"/>
<polygon points="330,270 370,290 450,430 440,470 400,450" fill="#4a4f55"/>
<polygon points="240,330 300,310 340,380 280,420" fill="#e3eaf2"/>
<polygon points="300,440 400,430 420,500 330,520" fill="#c8d4e0"/>
<polygon points="700,720 770,590 890,640 1010,850 930,940 850,880 740,830" fill="#9dabb9"/>
<polygon points="760,600 880,640 870,780 820,760" fill="#4f545a"/>
<polygon points="720,700 800,690 830,790 740,820" fill="#e3eaf2"/>
<polygon points="880,800 980,800 1010,850 930,935" fill="#c0ccd8"/>
<polygon points="140,780 270,660 530,880 400,1075" fill="#ebe9e3"/>
<polygon points="140,780 400,1075 420,1040 165,760" fill="#d3d0c8"/>
<polygon points="105,660 135,650 205,725 175,750" fill="#8693a0"/>
<polygon points="400,890 520,870 545,960 430,1000" fill="#aab4be"/>
<polygon points="480,960 520,945 600,1080 570,1100" fill="#7a8590"/>
<polygon points="240,790 290,740 420,860 370,920" fill="#6a6a66" opacity="0.55"/>
</g>
<g transform="translate(1840,130) scale(0.13975)" filter="url(#soft)">
<rect x="2140" y="88" width="42" height="240" fill="#c6c6c4"/>
<rect x="2148" y="885" width="40" height="270" fill="#cacac8"/>
<rect x="1850" y="345" width="95" height="530" fill="#e2e2e0" stroke="#cfcfcc" stroke-width="6"/>
<rect x="1828" y="390" width="22" height="40" fill="#9c9c94"/>
<rect x="1815" y="800" width="30" height="45" fill="#9c9c94"/>
<rect x="1900" y="305" width="490" height="24" fill="#c3c3ba"/>
<rect x="1900" y="878" width="490" height="24" fill="#c3c3ba"/>
<rect x="1940" y="322" width="450" height="562" fill="#f3f3f2" stroke="#d0d0cc" stroke-width="6"/>
<rect x="2042" y="420" width="262" height="342" fill="#fbfbfb" stroke="#e0e0e0" stroke-width="4"/>
<polygon points="2052,430 2285,430 2255,480 2082,480" fill="#111"/>
<rect x="2068" y="505" width="212" height="10" fill="#444"/>
<rect x="2068" y="530" width="212" height="22" fill="#666"/>
<rect x="2070" y="568" width="70" height="64" fill="#222"/>
<rect x="2155" y="565" width="122" height="72" fill="#111"/>
<rect x="2070" y="655" width="70" height="60" fill="#333"/>
<rect x="2160" y="660" width="110" height="8" fill="#888"/>
<rect x="2160" y="690" width="110" height="8" fill="#888"/>
<rect x="2066" y="728" width="215" height="18" fill="#333"/>
</g>
<g transform="translate(2430,60) scale(0.17857)" filter="url(#soft)">
<polygon points="100,570 230,545 770,560 775,700 790,760 785,1090 760,1130 750,1270 240,1305 120,1200" fill="#151515"/>
<polygon points="100,570 225,600 240,1305 120,1200" fill="#0e0e0e"/>
<polygon points="115,562 230,545 770,560 770,585 225,600" fill="#6a6a6a"/>
<ellipse cx="275" cy="630" rx="38" ry="42" fill="#050505"/>
<ellipse cx="425" cy="630" rx="38" ry="42" fill="#050505"/>
<ellipse cx="565" cy="630" rx="38" ry="42" fill="#050505"/>
<ellipse cx="705" cy="630" rx="38" ry="42" fill="#050505"/>
<ellipse cx="290" cy="1240" rx="36" ry="38" fill="#050505"/>
<ellipse cx="430" cy="1240" rx="36" ry="38" fill="#050505"/>
<ellipse cx="565" cy="1240" rx="36" ry="38" fill="#050505"/>
<ellipse cx="690" cy="1240" rx="36" ry="38" fill="#050505"/>
<polygon points="225,810 785,765 785,782 225,830" fill="#7fd6a0"/>
<polygon points="235,855 380,840 380,1085 245,1100" fill="#2e3446"/>
<polygon points="515,835 645,825 645,1060 515,1075" fill="#2e3446"/>
<polygon points="655,790 785,780 785,1090 655,1100" fill="#222"/>
<rect x="258" y="975" width="100" height="28" fill="#e4e4e4"/>
<rect x="250" y="868" width="110" height="12" fill="#aab"/>
<rect x="250" y="900" width="90" height="8" fill="#889"/>
<rect x="250" y="930" width="100" height="8" fill="#889"/>
<rect x="528" y="848" width="105" height="14" fill="#ccd"/>
<rect x="530" y="885" width="100" height="8" fill="#889"/>
<rect x="530" y="960" width="100" height="8" fill="#889"/>
<rect x="530" y="1030" width="100" height="14" fill="#aab"/>
<rect x="262" y="1055" width="18" height="18" fill="#e43"/>
<polygon points="415,855 465,850 465,920 415,925" fill="#1fae8c"/>
<polygon points="425,930 495,925 495,1005 440,1020" fill="#050505"/>
</g>
<g transform="translate(2430,60) scale(0.17857)" filter="url(#soft)">
<polygon points="1855,110 2230,75 2345,150 2345,370 2415,370 2430,770 2345,790 2340,1000 2015,1015 1860,905" fill="#ececea"/>
<polygon points="1855,110 2010,160 2015,385 2065,390 2085,800 2010,830 2010,1010 1860,905" fill="#e1e1de"/>
<polygon points="1855,110 2230,75 2345,150 2080,120 2010,160" fill="#f6f6f4"/>
<polygon points="2010,160 2080,115 2345,150 2345,370 2015,385" fill="#f2f2f0"/>
<polygon points="2065,385 2415,370 2430,770 2085,800" fill="#efefed"/>
<polygon points="2010,830 2345,790 2340,1000 2015,1015" fill="#eeeeec"/>
<line x1="2185" y1="140" x2="2190" y2="375" stroke="#d2d2cf" stroke-width="6"/>
<line x1="2240" y1="380" x2="2250" y2="650" stroke="#d6d6d3" stroke-width="6"/>
<line x1="2180" y1="815" x2="2182" y2="1005" stroke="#d2d2cf" stroke-width="6"/>
<ellipse cx="2095" cy="245" rx="34" ry="38" fill="#7a7a72"/>
<ellipse cx="2095" cy="245" rx="20" ry="23" fill="#4a4a44"/>
<ellipse cx="2100" cy="239" rx="8" ry="9" fill="#c8c8c0"/>
<ellipse cx="2272" cy="235" rx="34" ry="38" fill="#7a7a72"/>
<ellipse cx="2272" cy="235" rx="20" ry="23" fill="#4a4a44"/>
<ellipse cx="2277" cy="229" rx="8" ry="9" fill="#c8c8c0"/>
<ellipse cx="2095" cy="945" rx="34" ry="38" fill="#7a7a72"/>
<ellipse cx="2095" cy="945" rx="20" ry="23" fill="#4a4a44"/>
<ellipse cx="2100" cy="939" rx="8" ry="9" fill="#c8c8c0"/>
<ellipse cx="2270" cy="935" rx="34" ry="38" fill="#7a7a72"/>
<ellipse cx="2270" cy="935" rx="20" ry="23" fill="#4a4a44"/>
<ellipse cx="2275" cy="929" rx="8" ry="9" fill="#c8c8c0"/>
<polygon points="2000,390 2062,390 2062,470 2000,470" fill="#2a2c30"/>
<polygon points="2082,435 2225,428 2210,465 2095,468" fill="#3cc0a0"/>
<polygon points="2260,425 2405,415 2390,448 2275,452" fill="#3cc0a0"/>
<rect x="2090" y="478" width="125" height="10" fill="#555"/>
<rect x="2090" y="515" width="50" height="18" fill="#555"/>
<rect x="2110" y="560" width="30" height="18" fill="#1e7e62"/>
<rect x="2288" y="543" width="30" height="18" fill="#1e7e62"/>
<rect x="2088" y="595" width="60" height="60" fill="#888"/>
<rect x="2360" y="490" width="40" height="35" fill="#999"/>
<rect x="2358" y="575" width="40" height="55" fill="#aaa"/>
<polygon points="1915,420 1985,440 1985,520 1915,500" fill="#b8b8b6"/>
<polygon points="2105,670 2205,660 2210,805 2110,815" fill="#3d3f41"/>
<polygon points="2285,655 2385,645 2390,780 2290,795" fill="#3d3f41"/>
<polygon points="2085,805 2430,765 2435,835 2100,878" fill="#393b3d"/>
<ellipse cx="1910" cy="935" rx="20" ry="14" fill="#333"/>
</g>
<g transform="translate(1960,1540) scale(0.20747)" filter="url(#soft)">
<polygon points="812,180 1272,180 1278,340 1278,840 1272,922 815,922 806,840 806,340" fill="#39393b"/>
<rect x="806" y="340" width="472" height="350" fill="#3d3d3f"/>
<rect x="830" y="185" width="95" height="50" fill="#8f8f88"/>
<rect x="830" y="870" width="95" height="50" fill="#8f8f88"/>
<rect x="995" y="185" width="95" height="50" fill="#8f8f88"/>
<rect x="995" y="870" width="95" height="50" fill="#8f8f88"/>
<rect x="1150" y="185" width="95" height="50" fill="#8f8f88"/>
<rect x="1150" y="870" width="95" height="50" fill="#8f8f88"/>
<rect x="940" y="175" width="50" height="85" fill="#2c2c2e"/>
<rect x="940" y="845" width="50" height="82" fill="#2c2c2e"/>
<ellipse cx="965" cy="215" rx="14" ry="16" fill="#050505"/>
<ellipse cx="965" cy="885" rx="14" ry="16" fill="#050505"/>
<rect x="1095" y="175" width="50" height="85" fill="#2c2c2e"/>
<rect x="1095" y="845" width="50" height="82" fill="#2c2c2e"/>
<ellipse cx="1120" cy="215" rx="14" ry="16" fill="#050505"/>
<ellipse cx="1120" cy="885" rx="14" ry="16" fill="#050505"/>
<line x1="806" y1="342" x2="1278" y2="342" stroke="#222" stroke-width="6"/>
<line x1="806" y1="690" x2="1278" y2="690" stroke="#2c2c2c" stroke-width="4"/>
<rect x="950" y="430" width="185" height="235" fill="#2b2b2d" stroke="#4c4c4e" stroke-width="6"/>
<rect x="990" y="455" width="100" height="150" fill="#0d0d0e"/>
<rect x="1010" y="478" width="62" height="22" fill="#c8c8c8"/>
<rect x="830" y="445" width="100" height="12" fill="#b0b0b0"/>
<rect x="838" y="478" width="75" height="8" fill="#999"/>
<rect x="838" y="535" width="90" height="10" fill="#aaa"/>
<rect x="843" y="570" width="76" height="22" fill="#e0e0e0"/>
<rect x="838" y="650" width="85" height="6" fill="#888"/>
<rect x="1150" y="440" width="100" height="8" fill="#888"/>
<rect x="1150" y="495" width="100" height="6" fill="#aaa"/>
<rect x="1158" y="525" width="85" height="70" fill="#e8e8e8"/>
<rect x="1165" y="625" width="30" height="10" fill="#ccc"/>
<rect x="1155" y="650" width="95" height="6" fill="#888"/>
<ellipse cx="928" cy="755" rx="8" ry="8" fill="#e22"/>
<ellipse cx="824" cy="366" rx="8" ry="8" fill="#0a0a0a"/>
<ellipse cx="1258" cy="366" rx="8" ry="8" fill="#0a0a0a"/>
<ellipse cx="824" cy="718" rx="8" ry="8" fill="#0a0a0a"/>
<ellipse cx="1258" cy="718" rx="8" ry="8" fill="#0a0a0a"/>
</g>
<text class="w" x="231.08" y="115.13" font-size="48" textLength="241.06" lengthAdjust="spacingAndGlyphs" stroke="#fff" stroke-width="1.1" stroke-linejoin="round">交流配电柜</text>
<text class="w" x="1040.35" y="115.13" font-size="48" textLength="145.6" lengthAdjust="spacingAndGlyphs" stroke="#fff" stroke-width="1.1" stroke-linejoin="round">整流柜</text>
<text class="w" x="1731.83" y="115.13" font-size="48" textLength="240.11" lengthAdjust="spacingAndGlyphs" stroke="#fff" stroke-width="1.1" stroke-linejoin="round">直流配电柜</text>
<text class="w" x="2400.78" y="114.65" font-size="48" textLength="289.26" lengthAdjust="spacingAndGlyphs" stroke="#fff" stroke-width="1.1" stroke-linejoin="round">交直流列头柜</text>
<text class="w" x="1729.04" y="1627.63" font-size="48" textLength="147.53" lengthAdjust="spacingAndGlyphs" stroke="#fff" stroke-width="1.1" stroke-linejoin="round">电池柜</text>
<text class="t" x="743.17" y="357.7" font-size="38.5" textLength="131.2" lengthAdjust="spacingAndGlyphs" stroke="#fff" stroke-width="0.3" stroke-linejoin="round">TGM3E</text>
<text class="t" x="717.21" y="402.65" font-size="36" textLength="180.39" lengthAdjust="spacingAndGlyphs" stroke="#00a497" stroke-width="0.5" stroke-linejoin="round">塑壳断路器</text>
<text class="t" x="203.76" y="705.7" font-size="38.5" textLength="265.36" lengthAdjust="spacingAndGlyphs" stroke="#fff" stroke-width="0.3" stroke-linejoin="round">TGM1NE-1600</text>
<text class="t" x="245.6" y="751.25" font-size="36" textLength="180.79" lengthAdjust="spacingAndGlyphs" stroke="#00a497" stroke-width="0.5" stroke-linejoin="round">塑壳断路器</text>
<text class="t" x="497.28" y="702" font-size="38.5" textLength="122.82" lengthAdjust="spacingAndGlyphs" stroke="#fff" stroke-width="0.3" stroke-linejoin="round">TGQ3L</text>
<text class="t" x="447.08" y="746.83" font-size="36" textLength="218.18" lengthAdjust="spacingAndGlyphs" stroke="#00a497" stroke-width="0.5" stroke-linejoin="round">自动转换开关</text>
<text class="t" x="1153.29" y="338.8" font-size="38.5" textLength="96.4" lengthAdjust="spacingAndGlyphs" stroke="#fff" stroke-width="0.3" stroke-linejoin="round">TGB3</text>
<text class="t" x="1112.25" y="383.35" font-size="36" textLength="179.24" lengthAdjust="spacingAndGlyphs" stroke="#00a497" stroke-width="0.5" stroke-linejoin="round">小型断路器</text>
<text class="t" x="1859.75" y="335.5" font-size="38.5" textLength="117.6" lengthAdjust="spacingAndGlyphs" stroke="#fff" stroke-width="0.3" stroke-linejoin="round">RT16Z</text>
<text class="t" x="1863.37" y="380.45" font-size="36" textLength="108.43" lengthAdjust="spacingAndGlyphs" stroke="#00a497" stroke-width="0.5" stroke-linejoin="round">熔断器</text>
<text class="t" x="2072.99" y="335.5" font-size="38.5" textLength="141.43" lengthAdjust="spacingAndGlyphs" stroke="#fff" stroke-width="0.3" stroke-linejoin="round">TGRS3Z</text>
<text class="t" x="2054.14" y="380.45" font-size="36" textLength="178.65" lengthAdjust="spacingAndGlyphs" stroke="#00a497" stroke-width="0.5" stroke-linejoin="round">快速熔断器</text>
<text class="t" x="2449.57" y="342.8" font-size="38.5" textLength="161.52" lengthAdjust="spacingAndGlyphs" stroke="#fff" stroke-width="0.3" stroke-linejoin="round">TGM3DC</text>
<text class="t" x="2457.3" y="387.45" font-size="36" textLength="145.26" lengthAdjust="spacingAndGlyphs" stroke="#00a497" stroke-width="0.5" stroke-linejoin="round">直流塑壳</text>
<text class="t" x="2746.29" y="349.6" font-size="38.5" textLength="148.49" lengthAdjust="spacingAndGlyphs" stroke="#fff" stroke-width="0.3" stroke-linejoin="round">TGB3DC</text>
<text class="t" x="2749" y="394.15" font-size="36" textLength="144.74" lengthAdjust="spacingAndGlyphs" stroke="#00a497" stroke-width="0.5" stroke-linejoin="round">直流微断</text>
<text class="t" x="2442.07" y="1343.1" font-size="38.5" textLength="130.79" lengthAdjust="spacingAndGlyphs" stroke="#fff" stroke-width="0.3" stroke-linejoin="round">TGM3E</text>
<text class="t" x="2416.21" y="1388.05" font-size="36" textLength="180.39" lengthAdjust="spacingAndGlyphs" stroke="#00a497" stroke-width="0.5" stroke-linejoin="round">塑壳断路器</text>
<text class="t" x="2768.79" y="1417.2" font-size="38.5" textLength="96.3" lengthAdjust="spacingAndGlyphs" stroke="#fff" stroke-width="0.3" stroke-linejoin="round">TGB3</text>
<text class="t" x="2726.75" y="1462.15" font-size="36" textLength="179.14" lengthAdjust="spacingAndGlyphs" stroke="#00a497" stroke-width="0.5" stroke-linejoin="round">小型断路器</text>
<text class="t" x="2062.56" y="1772.5" font-size="38.5" textLength="267.47" lengthAdjust="spacingAndGlyphs" stroke="#fff" stroke-width="0.3" stroke-linejoin="round">TGM3DC-1600</text>
<text class="t" x="2123.71" y="1817.65" font-size="36" textLength="144.04" lengthAdjust="spacingAndGlyphs" stroke="#00a497" stroke-width="0.5" stroke-linejoin="round">直流塑壳</text>
<text class="k" x="2012" y="243.46" font-size="49.3" textLength="52.29" lengthAdjust="spacingAndGlyphs">或</text>
<text class="k" x="2389.29" y="880.32" font-size="41" textLength="200.62" lengthAdjust="spacingAndGlyphs">引自交流电</text>
</svg>
</body>
</html>
